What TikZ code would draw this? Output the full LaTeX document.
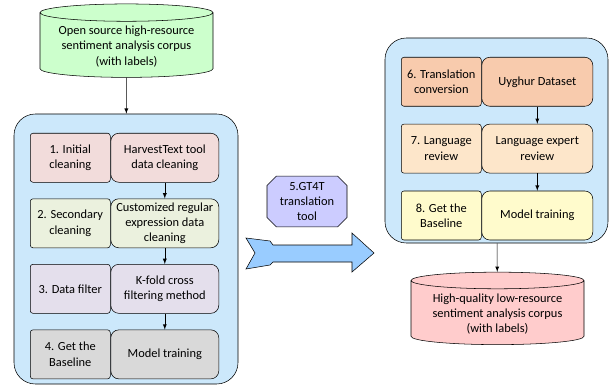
\documentclass[tikz,border=0pt]{standalone}
\usepackage{fontspec}
\setmainfont{Carlito}
\usepackage{xcolor}
\usepackage{tikz}
\usetikzlibrary{shapes.geometric, shapes.misc, arrows, positioning}

\definecolor{panelblue}{HTML}{CCE8FB}
\definecolor{srcgreen}{HTML}{CCFFCC}
\definecolor{dstred}{HTML}{FFCCCC}
\definecolor{rowpink}{HTML}{F2DCDB}
\definecolor{rowgreen}{HTML}{EBF1DE}
\definecolor{rowlilac}{HTML}{E4DFEC}
\definecolor{rowgray}{HTML}{D9D9D9}
\definecolor{rowpeach}{HTML}{F8CBAD}
\definecolor{rowsand}{HTML}{FDE6CA}
\definecolor{rowyellow}{HTML}{FFFBCC}
\definecolor{toolblue}{HTML}{CCCCFF}
\definecolor{arrowblue}{HTML}{99CCFF}

\begin{document}
\begin{tikzpicture}[x=0.75pt, y=-0.75pt, font=\fontsize{9.3}{11.5}\selectfont]

\useasboundingbox (0,0) rectangle (611,385);

\tikzstyle{corpus} =
[cylinder,
shape border rotate=90,
aspect=0.12,
minimum width=129.75pt,
minimum height=53.25pt,
align=center,
draw=black]

\tikzstyle{panel} =
[rectangle,
rounded corners=16pt,
draw=black,
fill=panelblue]

\tikzstyle{stage} =
[rectangle,
rounded corners=2pt,
minimum width=60pt,
minimum height=36.75pt,
inner sep=1pt,
align=center,
draw=black]

\tikzstyle{method} =
[rectangle,
rounded corners=6pt,
minimum width=81pt,
minimum height=36.75pt,
inner sep=1pt,
align=center,
draw=black]

\tikzstyle{tool} =
[chamfered rectangle,
chamfered rectangle xsep=3.5pt,
chamfered rectangle ysep=3.5pt,
minimum width=60pt,
minimum height=36.75pt,
inner sep=1pt,
align=center,
draw=black,
fill=toolblue]

\node (source) [corpus, fill=srcgreen] at (126.5,46.5)
{Open source high-resource\\sentiment analysis corpus\\(with labels)};

\node (leftpanel) [panel, minimum width=168pt, minimum height=202.5pt] at (126,249) {};

\node (clean1) [stage, fill=rowpink, anchor=north west] at (30,133)
{1. Initial\\cleaning};
\node (harvest) [method, fill=rowpink, right=0pt of clean1]
{HarvestText tool\\data cleaning};

\node (clean2) [stage, fill=rowgreen, below=12pt of clean1]
{2. Secondary\\cleaning};
\node (regex) [method, fill=rowgreen, right=0pt of clean2]
{Customized regular\\expression data\\cleaning};

\node (filter) [stage, fill=rowlilac, below=12pt of clean2]
{3. Data filter};
\node (kfold) [method, fill=rowlilac, right=0pt of filter]
{K-fold cross\\filtering method};

\node (base1) [stage, fill=rowgray, below=12pt of filter]
{4. Get the\\Baseline};
\node (train1) [method, fill=rowgray, right=0pt of base1]
{Model training};

\node (gtool) [tool] at (307,201.5)
{5.GT4T\\translation\\tool};

\filldraw[fill=arrowblue, draw=black, line join=miter]
(246,238) -- (270,241) -- (273,245) -- (352,245) -- (352,233) -- (374,253)
-- (352,272) -- (352,262) -- (273,262) -- (270,265) -- (246,269) -- (255,253) -- cycle;

\node (rightpanel) [panel, minimum width=167.25pt, minimum height=153.75pt] at (496.5,140.5) {};

\node (trans) [stage, fill=rowpeach, anchor=north west] at (401,57)
{6. Translation\\conversion};
\node (uyghur) [method, fill=rowpeach, minimum width=83.25pt, right=0pt of trans]
{Uyghur Dataset};

\node (review) [stage, fill=rowsand, below=13pt of trans]
{7. Language\\review};
\node (expert) [method, fill=rowsand, minimum width=83.25pt, right=0pt of review]
{Language expert\\review};

\node (base2) [stage, fill=rowyellow, below=13pt of review]
{8. Get the\\Baseline};
\node (train2) [method, fill=rowyellow, minimum width=83.25pt, right=0pt of base2]
{Model training};

\node (target) [corpus, fill=dstred, minimum height=51pt] at (497.5,314)
{High-quality low-resource\\sentiment analysis corpus\\(with labels)};

\draw[-latex] (source) -- (leftpanel);
\draw[-latex] (harvest) -- (regex);
\draw[-latex] (regex) -- (kfold);
\draw[-latex] (kfold) -- (train1);
\draw[-latex] (uyghur) -- (expert);
\draw[-latex] (expert) -- (train2);
\draw[-latex] (rightpanel) -- (target);

\end{tikzpicture}
\end{document}
